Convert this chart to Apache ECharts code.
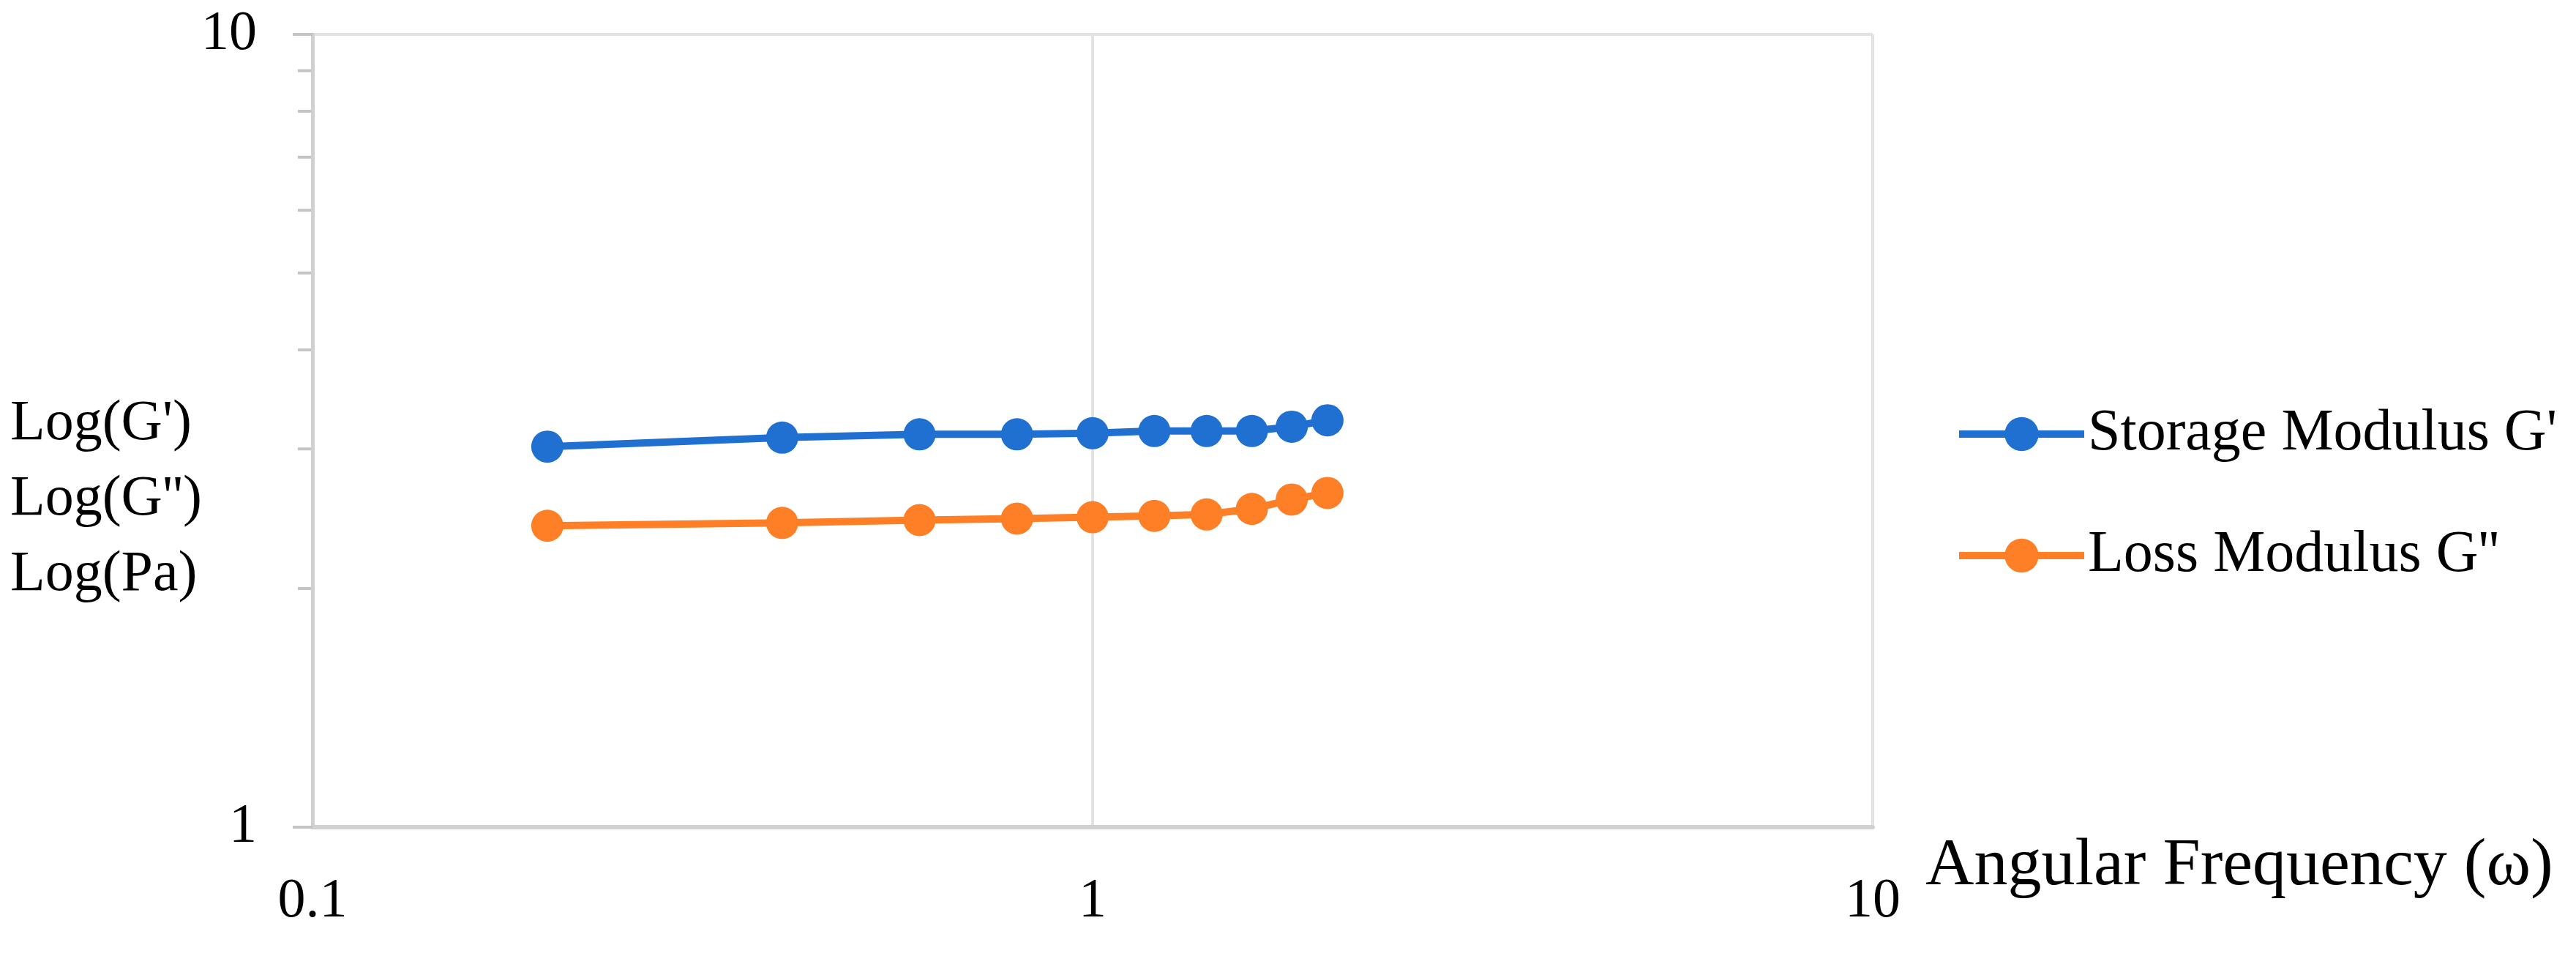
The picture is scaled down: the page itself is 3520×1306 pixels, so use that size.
<!DOCTYPE html>
<html>
<head>
<meta charset="utf-8">
<script src="https://cdn.jsdelivr.net/npm/echarts@6/dist/echarts.min.js"></script>
<style>
  html, body { margin: 0; padding: 0; background: #fff; }
  #chart { width: 3520px; height: 1306px; }
</style>
</head>
<body>
<div id="chart"></div>
<script>
// angular frequency (x, log axis)
var freq = [0.2, 0.4, 0.6, 0.8, 1.0, 1.2, 1.4, 1.6, 1.8, 2.0];
// storage modulus G'
var storage = [3.02, 3.10, 3.13, 3.13, 3.14, 3.16, 3.16, 3.16, 3.20, 3.26];
// loss modulus G''
var loss = [2.40, 2.42, 2.44, 2.45, 2.46, 2.47, 2.48, 2.52, 2.59, 2.64];
var seriesNames = ["Storage Modulus G'", "Loss Modulus G''"];
var yNameLines = ["Log(G')", "Log(G'')", "Log(Pa)"];
var xName = 'Angular Frequency (\u03c9)';
var yMinorTicks = [2, 3, 4, 5, 6, 7, 8, 9];

var FONT = 'Liberation Serif';
var gridColor = '#e2e2e2';
var axisColor = '#d0d0d0';

function pairs(xs, ys) {
    var out = [];
    for (var i = 0; i < xs.length; i++) {
        out.push([xs[i], ys[i]]);
    }
    return out;
}

var chart = echarts.init(document.getElementById('chart'));

var option = {
    animation: false,
    backgroundColor: '#ffffff',
    grid: {
        left: 427,
        right: 961,
        top: 47,
        bottom: 176,
        containLabel: false,
        outerBoundsMode: 'none'
    },
    legend: {
        orient: 'vertical',
        left: 2667,
        top: 548,
        itemWidth: 171,
        itemHeight: 58,
        itemGap: 86,
        data: seriesNames,
        lineStyle: { width: 10 },
        textStyle: { fontFamily: FONT, fontSize: 80, color: '#000' }
    },
    xAxis: {
        type: 'log',
        logBase: 10,
        min: 0.1,
        max: 10,
        name: xName,
        nameLocation: 'end',
        nameGap: 72,
        nameTextStyle: {
            fontFamily: FONT, fontSize: 92, color: '#000',
            verticalAlign: 'top', padding: [8, 0, 0, 0]
        },
        axisLine: { show: true, onZero: false, lineStyle: { color: axisColor, width: 6 } },
        axisTick: { show: false },
        axisLabel: { fontFamily: FONT, fontSize: 76, color: '#000', margin: 64 },
        splitLine: { show: true, lineStyle: { color: gridColor, width: 4 } }
    },
    yAxis: {
        type: 'log',
        logBase: 10,
        min: 1,
        max: 10,
        axisLine: { show: true, onZero: false, lineStyle: { color: axisColor, width: 5 } },
        axisTick: { show: true, length: 27, lineStyle: { color: '#c4c4c4', width: 4 } },
        axisLabel: { fontFamily: FONT, fontSize: 76, color: '#000', margin: 76 },
        splitLine: { show: true, lineStyle: { color: gridColor, width: 4 } }
    },
    series: [
        {
            name: seriesNames[0],
            type: 'line',
            data: pairs(freq, storage),
            symbol: 'circle',
            symbolSize: 44,
            color: '#1f70d0',
            lineStyle: { width: 10, color: '#1f70d0' },
            itemStyle: { color: '#1f70d0' }
        },
        {
            name: seriesNames[1],
            type: 'line',
            data: pairs(freq, loss),
            symbol: 'circle',
            symbolSize: 44,
            color: '#ff7f27',
            lineStyle: { width: 10, color: '#ff7f27' },
            itemStyle: { color: '#ff7f27' }
        }
    ]
};
chart.setOption(option);

// minor ticks on the log y axis + the stacked y title
var axisX = chart.convertToPixel({ xAxisIndex: 0 }, 0.1);
var elements = [];
for (var i = 0; i < yMinorTicks.length; i++) {
    var py = chart.convertToPixel({ yAxisIndex: 0 }, yMinorTicks[i]);
    elements.push({
        type: 'line',
        shape: { x1: axisX - 20, y1: py, x2: axisX - 2, y2: py },
        style: { stroke: '#c4c4c4', lineWidth: 4 },
        z: 5
    });
}
elements.push({
    type: 'text',
    left: 14,
    top: 528,
    style: {
        text: yNameLines.join('\n'),
        font: '78px "' + FONT + '"',
        fill: '#000',
        align: 'center',
        lineHeight: 103
    }
});
chart.setOption({ graphic: { elements: elements } });
</script>
</body>
</html>
